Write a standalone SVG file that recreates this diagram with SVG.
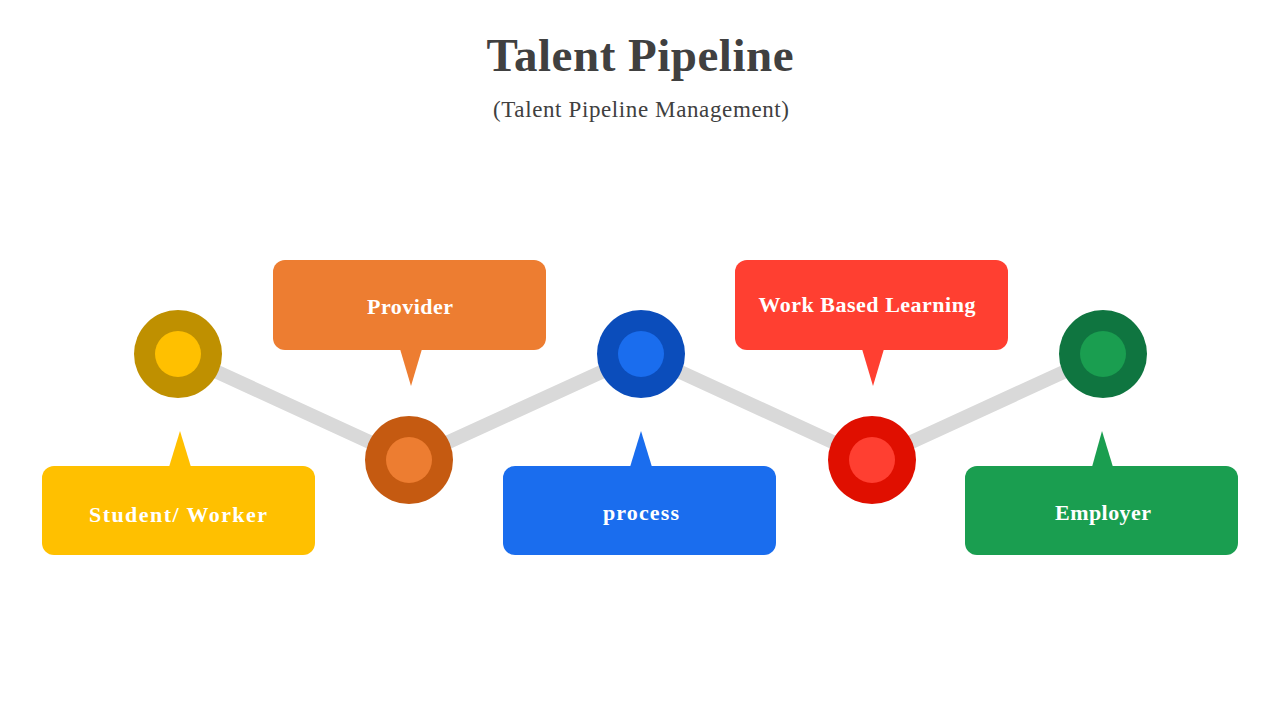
<svg xmlns="http://www.w3.org/2000/svg" width="1280" height="720" viewBox="0 0 1280 720">
<style>
.title{font-family:"Liberation Serif","DejaVu Serif",serif;font-weight:bold;font-size:47px;fill:#404040;text-anchor:middle}
.sub{font-family:"Liberation Serif","DejaVu Serif",serif;font-size:23px;fill:#404040;text-anchor:middle}
.lbl{font-family:"Liberation Serif","DejaVu Serif",serif;font-weight:bold;font-size:22px;fill:#ffffff;text-anchor:middle}
.pipe{stroke:#d9d9d9;stroke-width:14;fill:none}
</style>
<rect width="1280" height="720" fill="#ffffff"/>
<text class="title" x="640" y="71" textLength="307" lengthAdjust="spacing">Talent Pipeline</text>
<text class="sub" x="641" y="117" textLength="296" lengthAdjust="spacing">(Talent Pipeline Management)</text>
<g id="connectors">
<polyline class="pipe" points="178,354 409,460 641,354 872,460 1103,354"/>
</g>
<g id="node-student">
<circle cx="178" cy="354" r="44" fill="#BF9000"/>
<circle cx="178" cy="354" r="23" fill="#FFC000"/>
<path d="M169,467 L180,431 L191,467 Z" fill="#FFC000"/>
<rect x="42" y="466" width="273" height="89" rx="12" fill="#FFC000"/>
<text class="lbl" x="178" y="522" textLength="178" lengthAdjust="spacing">Student/ Worker</text>
</g>
<g id="node-provider">
<circle cx="409" cy="460" r="44" fill="#C55A11"/>
<circle cx="409" cy="460" r="23" fill="#ED7D31"/>
<rect x="273" y="260" width="273" height="90" rx="12" fill="#ED7D31"/>
<path d="M400,349 L411,386 L422,349 Z" fill="#ED7D31"/>
<text class="lbl" x="410" y="314" textLength="86" lengthAdjust="spacing">Provider</text>
</g>
<g id="node-process">
<circle cx="641" cy="354" r="44" fill="#0B4DBB"/>
<circle cx="641" cy="354" r="23" fill="#1A6DEE"/>
<path d="M630,467 L641,431 L652,467 Z" fill="#1A6DEE"/>
<rect x="503" y="466" width="273" height="89" rx="12" fill="#1A6DEE"/>
<text class="lbl" x="641" y="520" textLength="76" lengthAdjust="spacing">process</text>
</g>
<g id="node-wbl">
<circle cx="872" cy="460" r="44" fill="#E00F00"/>
<circle cx="872" cy="460" r="23" fill="#FF3F31"/>
<rect x="735" y="260" width="273" height="90" rx="12" fill="#FF3F31"/>
<path d="M862,349 L873,386 L884,349 Z" fill="#FF3F31"/>
<text class="lbl" x="867" y="312" textLength="217" lengthAdjust="spacing">Work Based Learning</text>
</g>
<g id="node-employer">
<circle cx="1103" cy="354" r="44" fill="#0F7540"/>
<circle cx="1103" cy="354" r="23" fill="#1A9E50"/>
<path d="M1092,467 L1102,431 L1113,467 Z" fill="#1A9E50"/>
<rect x="965" y="466" width="273" height="89" rx="12" fill="#1A9E50"/>
<text class="lbl" x="1103" y="520" textLength="96" lengthAdjust="spacing">Employer</text>
</g>
</svg>
